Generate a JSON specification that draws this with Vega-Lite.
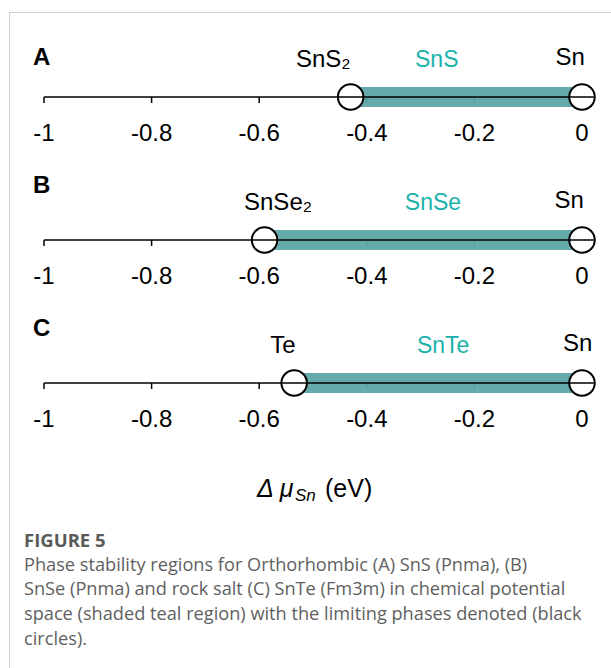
{
  "$schema": "https://vega.github.io/schema/vega-lite/v6.json",
  "width": 650,
  "height": 700,
  "autosize": {"type": "none"},
  "padding": {"left": 9, "top": 12, "right": 0, "bottom": 0},
  "background": "white",
  "config": {
    "view": {"stroke": "#cfcfcf", "strokeWidth": 1},
    "text": {"font": "Liberation Sans"}
  },
  "datasets": {
    "panels": [
      {"panel": "A", "lo": -0.43, "limit": "SnS₂", "phase": "SnS", "end": "Sn", "lx": -0.481, "px": -0.27, "sx": -0.022},
      {"panel": "B", "lo": -0.59, "limit": "SnSe₂", "phase": "SnSe", "end": "Sn", "lx": -0.565, "px": -0.277, "sx": -0.024},
      {"panel": "C", "lo": -0.535, "limit": "Te", "phase": "SnTe", "end": "Sn", "lx": -0.556, "px": -0.258, "sx": -0.008}
    ],
    "circles": [
      {"panel": "A", "mu": -0.43}, {"panel": "A", "mu": 0},
      {"panel": "B", "mu": -0.59}, {"panel": "B", "mu": 0},
      {"panel": "C", "mu": -0.535}, {"panel": "C", "mu": 0}
    ],
    "ticks": [
      {"panel": "A", "v": -1, "label": "-1"}, {"panel": "A", "v": -0.8, "label": "-0.8"}, {"panel": "A", "v": -0.6, "label": "-0.6"},
      {"panel": "A", "v": -0.4, "label": "-0.4"}, {"panel": "A", "v": -0.2, "label": "-0.2"}, {"panel": "A", "v": 0, "label": "0"},
      {"panel": "B", "v": -1, "label": "-1"}, {"panel": "B", "v": -0.8, "label": "-0.8"}, {"panel": "B", "v": -0.6, "label": "-0.6"},
      {"panel": "B", "v": -0.4, "label": "-0.4"}, {"panel": "B", "v": -0.2, "label": "-0.2"}, {"panel": "B", "v": 0, "label": "0"},
      {"panel": "C", "v": -1, "label": "-1"}, {"panel": "C", "v": -0.8, "label": "-0.8"}, {"panel": "C", "v": -0.6, "label": "-0.6"},
      {"panel": "C", "v": -0.4, "label": "-0.4"}, {"panel": "C", "v": -0.2, "label": "-0.2"}, {"panel": "C", "v": 0, "label": "0"}
    ],
    "caption": [
      {"line": 0, "text": "FIGURE 5"},
      {"line": 1, "text": "Phase stability regions for Orthorhombic (A) SnS (Pnma), (B)"},
      {"line": 2, "text": "SnSe (Pnma) and rock salt (C) SnTe (Fm3m) in chemical potential"},
      {"line": 3, "text": "space (shaded teal region) with the limiting phases denoted (black"},
      {"line": 4, "text": "circles)."}
    ]
  },
  "layer": [
    {
      "layer": [
        {
          "data": {"name": "ticks"},
          "mark": {"type": "tick", "orient": "vertical", "size": 6, "thickness": 1.5, "yOffset": 3, "color": "black", "opacity": 1},
          "encoding": {
            "x": {"field": "v", "type": "quantitative", "scale": {"domain": [-1.06506, 0.14312], "nice": false, "zero": false}, "axis": null},
            "y": {"field": "panel", "type": "nominal", "scale": {"type": "point", "domain": ["A", "B", "C"], "range": [85, 371], "padding": 0}, "axis": null}
          }
        },
        {
          "data": {"name": "panels"},
          "mark": {"type": "rule", "strokeWidth": 20, "strokeCap": "square", "color": "#5ea7a8", "opacity": 0.95},
          "encoding": {
            "x": {"field": "lo", "type": "quantitative"},
            "x2": {"datum": 0},
            "y": {"field": "panel", "type": "nominal"}
          }
        },
        {
          "data": {"name": "circles"},
          "mark": {"type": "point", "shape": "circle", "size": 650, "filled": true, "fill": "white", "stroke": "black", "strokeWidth": 2, "opacity": 1, "fillOpacity": 1, "strokeOpacity": 1},
          "encoding": {
            "x": {"field": "mu", "type": "quantitative"},
            "y": {"field": "panel", "type": "nominal"}
          }
        },
        {
          "data": {"name": "panels"},
          "mark": {"type": "rule", "strokeWidth": 1.6, "color": "black"},
          "encoding": {
            "x": {"datum": -1},
            "x2": {"datum": 0.022},
            "y": {"field": "panel", "type": "nominal"}
          }
        },
        {
          "data": {"name": "ticks"},
          "mark": {"type": "text", "fontSize": 24, "dy": 37, "align": "center", "baseline": "middle", "color": "black"},
          "encoding": {
            "x": {"field": "v", "type": "quantitative"},
            "y": {"field": "panel", "type": "nominal"},
            "text": {"field": "label"}
          }
        },
        {
          "data": {"name": "panels"},
          "mark": {"type": "text", "fontSize": 24, "dy": -30, "align": "center", "baseline": "alphabetic", "color": "black"},
          "encoding": {
            "x": {"field": "lx", "type": "quantitative"},
            "y": {"field": "panel", "type": "nominal"},
            "text": {"field": "limit"}
          }
        },
        {
          "data": {"name": "panels"},
          "mark": {"type": "text", "fontSize": 23, "dy": -30, "align": "center", "baseline": "alphabetic", "color": "#18b2ab"},
          "encoding": {
            "x": {"field": "px", "type": "quantitative"},
            "y": {"field": "panel", "type": "nominal"},
            "text": {"field": "phase"}
          }
        },
        {
          "data": {"name": "panels"},
          "mark": {"type": "text", "fontSize": 24, "dy": -32, "align": "center", "baseline": "alphabetic", "color": "black"},
          "encoding": {
            "x": {"field": "sx", "type": "quantitative"},
            "y": {"field": "panel", "type": "nominal"},
            "text": {"field": "end"}
          }
        },
        {
          "data": {"name": "panels"},
          "transform": [{"filter": "datum.panel == 'A'"}],
          "mark": {"type": "text", "fontSize": 24, "fontWeight": "bold", "dy": -39, "align": "left", "baseline": "middle", "color": "black"},
          "encoding": {
            "x": {"datum": -1.0204},
            "y": {"field": "panel", "type": "nominal"},
            "text": {"field": "panel"}
          }
        },
        {
          "data": {"name": "panels"},
          "transform": [{"filter": "datum.panel != 'A'"}],
          "mark": {"type": "text", "fontSize": 24, "fontWeight": "bold", "dy": -54, "align": "left", "baseline": "middle", "color": "black"},
          "encoding": {
            "x": {"datum": -1.0204},
            "y": {"field": "panel", "type": "nominal"},
            "text": {"field": "panel"}
          }
        },
        {
          "data": {"name": "panels"},
          "transform": [{"filter": "datum.panel == 'C'"}],
          "mark": {"type": "text", "fontSize": 25, "fontStyle": "italic", "dy": 106, "align": "left", "baseline": "middle", "color": "black", "text": "Δ μ"},
          "encoding": {
            "x": {"datum": -0.6041},
            "y": {"field": "panel", "type": "nominal"}
          }
        },
        {
          "data": {"name": "panels"},
          "transform": [{"filter": "datum.panel == 'C'"}],
          "mark": {"type": "text", "fontSize": 17, "fontStyle": "italic", "dy": 113, "align": "left", "baseline": "middle", "color": "black", "text": "Sn"},
          "encoding": {
            "x": {"datum": -0.5335},
            "y": {"field": "panel", "type": "nominal"}
          }
        },
        {
          "data": {"name": "panels"},
          "transform": [{"filter": "datum.panel == 'C'"}],
          "mark": {"type": "text", "fontSize": 25, "dy": 106, "align": "left", "baseline": "middle", "color": "black", "text": "(eV)"},
          "encoding": {
            "x": {"datum": -0.4777},
            "y": {"field": "panel", "type": "nominal"}
          }
        }
      ]
    },
    {
      "data": {"name": "caption"},
      "layer": [
        {
          "transform": [{"filter": "datum.line == 0"}],
          "mark": {"type": "text", "font": "Open Sans", "fontSize": 18.5, "fontWeight": "bold", "align": "left", "baseline": "middle", "color": "#5a5a5a"},
          "encoding": {
            "x": {"datum": -1.0372},
            "y": {"field": "line", "type": "quantitative", "scale": {"domain": [-21.417, 6.923], "reverse": true, "nice": false, "zero": false}, "axis": null},
            "text": {"field": "text"}
          }
        },
        {
          "transform": [{"filter": "datum.line > 0"}],
          "mark": {"type": "text", "font": "Open Sans", "fontSize": 18.2, "align": "left", "baseline": "middle", "color": "#5f5f5f"},
          "encoding": {
            "x": {"datum": -1.0372},
            "y": {"field": "line", "type": "quantitative"},
            "text": {"field": "text"}
          }
        }
      ]
    }
  ],
  "resolve": {"scale": {"y": "independent"}}
}
